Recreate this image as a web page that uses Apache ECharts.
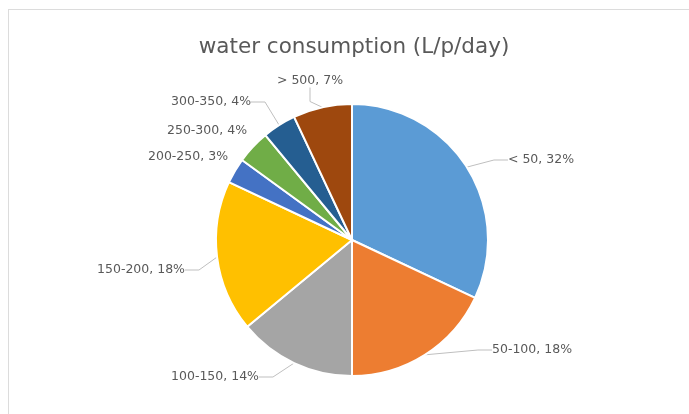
<!DOCTYPE html>
<html>
<head>
<meta charset="utf-8">
<script src="https://cdn.jsdelivr.net/npm/echarts@6/dist/echarts.min.js"></script>
<style>
  html, body { margin: 0; padding: 0; background: #fff; }
  #frame { position: absolute; left: 8px; top: 9px; width: 700px; height: 420px;
           border-left: 1px solid #dcdcdc; border-top: 1px solid #dcdcdc; }
  #chart { position: absolute; left: 0; top: 0; width: 689px; height: 414px; }
</style>
</head>
<body>
<div id="frame"></div>
<div id="chart"></div>
<script>
// Consumption bands and their share of households (%)
const categories = ['< 50', '50-100', '100-150', '150-200', '200-250', '250-300', '300-350', '> 500'];
const shares = [32, 18, 14, 18, 3, 4, 4, 7];
const colors = ['#5B9BD5', '#ED7D31', '#A5A5A5', '#FFC000', '#4472C4', '#70AD47', '#255E91', '#9E480E'];

// Where each data label sits (text centre, px) and whether it gets a leader line
const labelSpots = [[541, 160], [532, 350], [215, 377], [141, 270], [188, 157], [207, 131], [211, 102], [310, 81]];
const showLeader = [true, true, true, true, false, false, true, true];

const chart = echarts.init(document.getElementById('chart'), null, { renderer: 'canvas' });

chart.setOption({
  backgroundColor: 'transparent',
  animation: false,
  title: {
    text: 'water consumption (L/p/day)',
    left: 349,
    textAlign: 'center',
    top: 31,
    textStyle: { fontFamily: 'DejaVu Sans', fontWeight: 'normal', fontSize: 21.5, color: '#595959' }
  },
  series: [{
    type: 'pie',
    center: [352, 240],
    radius: 136,
    startAngle: 90,
    clockwise: true,
    data: categories.map((c, i) => ({
      name: c,
      value: shares[i],
      itemStyle: { color: colors[i] },
      labelLine: { show: showLeader[i] }
    })),
    itemStyle: { borderColor: '#fff', borderWidth: 2 },
    label: {
      show: true,
      position: 'outside',
      formatter: p => p.name + ', ' + p.value + '%',
      fontFamily: 'DejaVu Sans',
      fontSize: 12.5,
      color: '#595959'
    },
    labelLine: { show: true, length: 12, length2: 14, lineStyle: { color: '#bfbfbf', width: 1 } },
    labelLayout: p => ({
      x: labelSpots[p.dataIndex][0],
      y: labelSpots[p.dataIndex][1],
      align: 'center',
      verticalAlign: 'middle'
    })
  }]
});
</script>
</body>
</html>
